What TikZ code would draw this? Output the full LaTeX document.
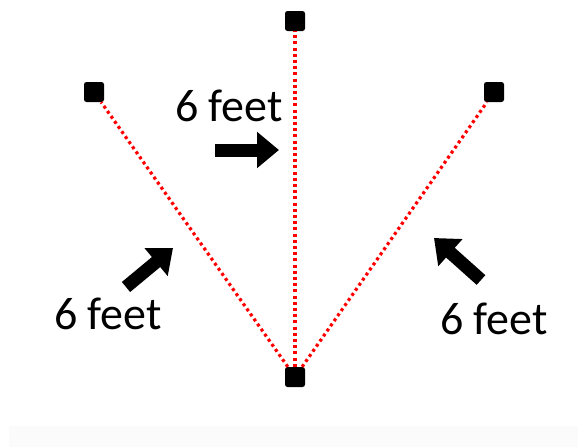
\documentclass[tikz,border=0pt]{standalone}
\usepackage{fontspec}
\setmainfont{Carlito}
\usetikzlibrary{arrows.meta}

\begin{document}
\begin{tikzpicture}[x=1pt, y=-1pt,
  post/.style={fill=black, rounded corners=2.5pt, minimum size=20pt, inner sep=0pt},
  gap/.style={red, line width=3.2pt, dash pattern=on 3pt off 3.2pt},
  push/.style={line width=13pt, -{Triangle[length=22pt, width=35pt]}},
  lbl/.style={font=\fontsize{46}{54}\selectfont}]
\useasboundingbox (0,0) rectangle (578,447);
\fill[gray!3] (9,426) rectangle (578,447);
% posts
\node[post] (left) at (94,92) {};
\node[post] (top) at (295,21) {};
\node[post] (right) at (494,92) {};
\node[post] (base) at (295,377) {};
% distances
\draw[gap] (base) -- (left);
\draw[gap] (base) -- (top);
\draw[gap] (base) -- (right);
% arrows
\coordinate (t1) at (215,150);
\coordinate (h1) at (279,150);
\coordinate (t2) at (126,287);
\coordinate (h2) at (173,248);
\coordinate (t3) at (481,280);
\coordinate (h3) at (434,238);
\draw[push] (t1) -- (h1);
\draw[push] (t2) -- (h2);
\draw[push] (t3) -- (h3);
% labels
\node[lbl] (ltop) at (229,106) {6 feet};
\node[lbl] (lleft) at (108,314) {6 feet};
\node[lbl] (lright) at (494,319) {6 feet};
\end{tikzpicture}
\end{document}
